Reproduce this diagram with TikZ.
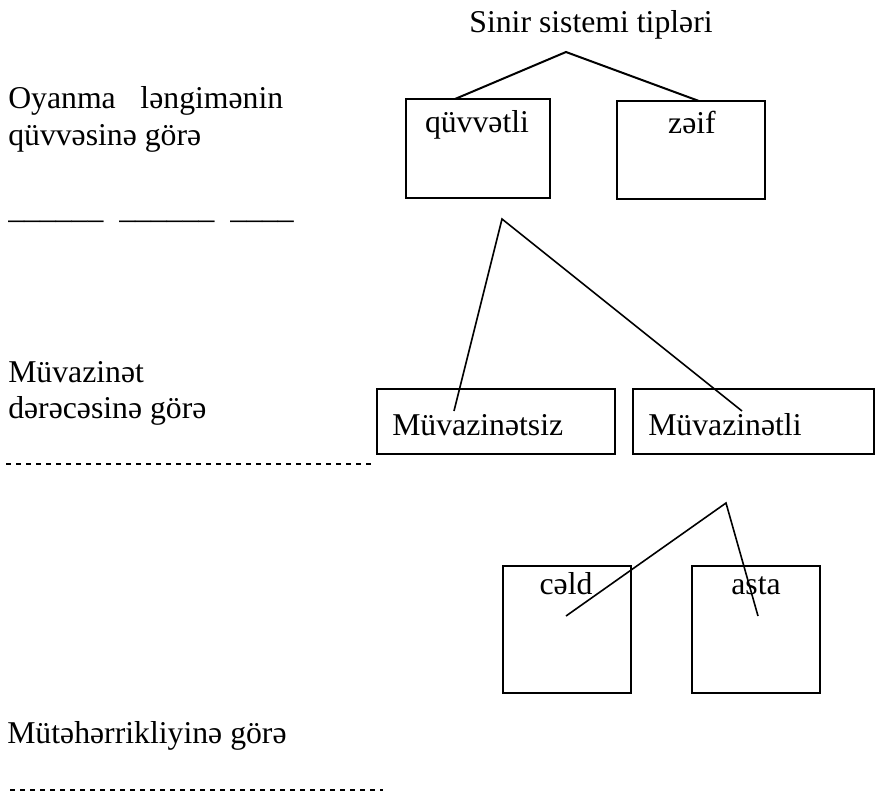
\documentclass[tikz,border=0pt]{standalone}
\usepackage{fontspec}
\setmainfont{Liberation Serif}
\usepackage{tikz}

\tikzset{
        kutu/.style={draw, line width=1.7pt, inner sep=0pt, outer sep=0pt},
        yazi/.style={anchor=base, inner sep=0pt},
        sol/.style={anchor=base west, inner sep=0pt},
        xett/.style={line width=1.2pt},
        noqte/.style={line width=1.1pt, dash pattern=on 3.4pt off 4.1pt}
}

\begin{document}
\begin{tikzpicture}[x=0.75pt, y=-0.75pt, font=\fontsize{23.8}{28}\selectfont]
        \useasboundingbox (0,0) rectangle (879,793);

        \node[yazi] (bas) at (591, 32) {Sinir sistemi tipləri};
        \coordinate (t1) at (566, 52);
        \node[kutu, minimum width=108pt, minimum height=74.25pt] (q) at (478, 148.5) {};
        \node[kutu, minimum width=111pt, minimum height=73.5pt]  (z) at (691, 150) {};
        \node[yazi] (qlab) at (477, 132) {qüvvətli};
        \node[yazi] (zlab) at (692, 133) {zəif};
        \draw[line width=1.5pt] ([xshift=-17.25pt]q.north) -- (t1) -- ([xshift=6pt]z.north);

        \node[sol, text width=206.25pt] (oyan) at (8, 108) {Oyanma\hfill ləngimənin};
        \node[sol] (quvve) at (8, 145) {qüvvəsinə görə};
        \node[sol] (xetler) at (8, 218) {\_\_\_\_\_\_\ \ \_\_\_\_\_\_\ \ \_\_\_\_};

        \coordinate (t2) at (502, 219);
        \node[kutu, minimum width=178.5pt, minimum height=48.75pt]  (ms) at (496, 421.5) {};
        \node[kutu, minimum width=180.75pt, minimum height=48.75pt] (ml) at (753.5, 421.5) {};
        \node[sol] (mslab) at (392, 435) {Müvazinətsiz};
        \node[sol] (mllab) at (648, 435) {Müvazinətli};
        \coordinate (msuc) at (454, 411);
        \coordinate (mluc) at (742, 411);
        \draw[xett] (msuc) -- (t2) -- (mluc);

        \node[sol] (muva) at (8, 382) {Müvazinət};
        \node[sol] (derece) at (8, 418) {dərəcəsinə görə};
        \draw[noqte] (6, 464) -- (375, 464);

        \coordinate (t3) at (726, 503);
        \node[kutu, minimum width=96pt, minimum height=95.25pt] (c) at (567, 629.5) {};
        \node[kutu, minimum width=96pt, minimum height=95.25pt] (a) at (756, 629.5) {};
        \node[yazi] (clab) at (566, 594) {cəld};
        \node[yazi] (alab) at (756, 594) {asta};
        \coordinate (cuc) at (566, 616);
        \coordinate (auc) at (758, 616);
        \draw[xett] (cuc) -- (t3) -- (auc);

        \node[sol] (mute) at (7, 743) {Mütəhərrikliyinə görə};
        \draw[noqte] (10, 790) -- (383, 790);
\end{tikzpicture}
\end{document}
